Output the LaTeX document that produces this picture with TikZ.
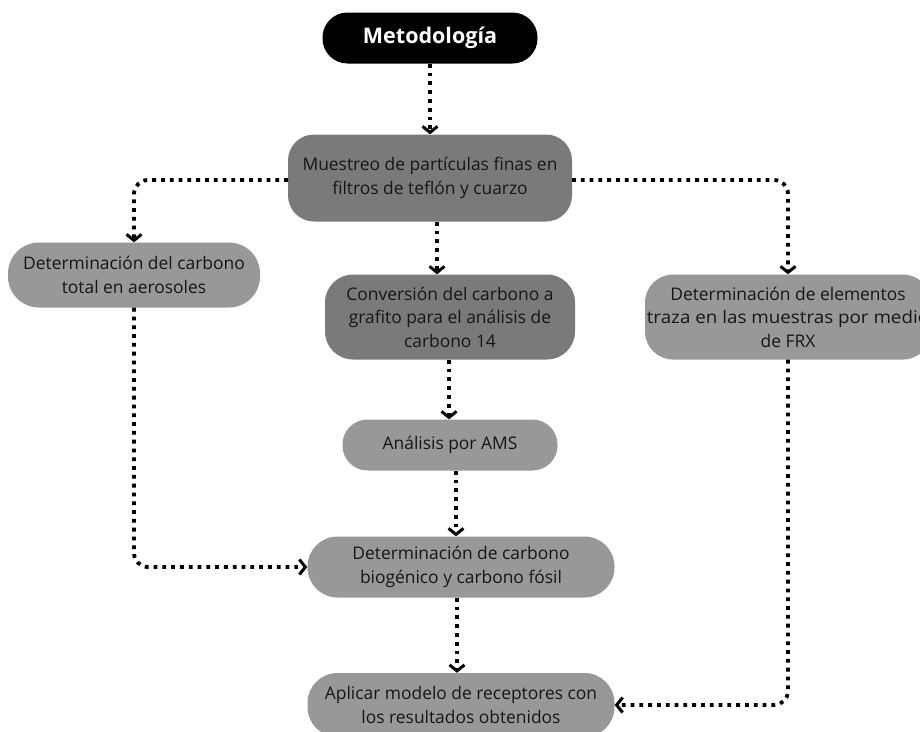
\documentclass[tikz,border=0pt]{standalone}
\usepackage{fontspec}
\setmainfont{Open Sans}
\usetikzlibrary{arrows.meta}
\definecolor{darkbox}{RGB}{122,122,122}
\definecolor{lightbox}{RGB}{152,152,152}
\definecolor{txt}{RGB}{22,22,22}
\begin{document}
\begin{tikzpicture}[x=1pt,y=-1pt,
  box/.style={rectangle, inner sep=0pt, align=center, text=txt,
    font=\fontsize{17.4}{23.5}\selectfont},
  darkb/.style={box, fill=darkbox},
  lightb/.style={box, fill=lightbox},
  conn/.style={line width=3.8pt, dash pattern=on 3.8pt off 5pt,
    rounded corners=14pt,
    -{Straight Barb[length=6pt,width=15pt,line width=3pt]}},
]
\useasboundingbox (0,0) rectangle (920,731);
\node[box, fill=black, text=white, minimum width=215pt, minimum height=51pt,
  rounded corners=25pt, font=\fontsize{21.5}{25}\selectfont\bfseries] (met) at (430,38) {Metodología};
\node[darkb, minimum width=284pt, minimum height=87pt, rounded corners=26pt] (mue) at (430,178)
  {\raisebox{4pt}{\parbox{280pt}{\centering Muestreo de partículas finas en\\filtros de teflón y cuarzo}}};
\node[lightb, minimum width=252pt, minimum height=65pt, rounded corners=31pt] (tot) at (134,275)
  {Determinación del carbono\\total en aerosoles};
\node[darkb, minimum width=250pt, minimum height=85pt, rounded corners=28pt] (con) at (450,317)
  {Conversión del carbono a\\grafito para el análisis de\\carbono 14};
\node[lightb, minimum width=286pt, minimum height=85pt, rounded corners=28pt] (frx) at (788,317)
  {Determinación de elementos\\\scalebox{1.08}[1]{traza en las muestras por medio}\\de FRX};
\node[lightb, minimum width=215pt, minimum height=51pt, rounded corners=25pt] (ams) at (450,445)
  {Análisis por AMS};
\node[lightb, minimum width=307pt, minimum height=61pt, rounded corners=30pt] (bio) at (461,567)
  {Determinación de carbono\\biogénico y carbono fósil};
\node[lightb, minimum width=307pt, minimum height=64pt, rounded corners=30pt] (apl) at (461,705)
  {Aplicar modelo de receptores con\\los resultados obtenidos};
\coordinate (xa) at (437,0);
\coordinate (xb) at (449,0);
\coordinate (xc) at (456,0);
\coordinate (xd) at (457,0);
\coordinate (ml) at (288,180);
\coordinate (mr) at (572,180);
\draw[conn] (met.south) -- (mue.north);
\draw[conn] (ml) -| (tot.north);
\draw[conn] (mr) -| (frx.north);
\draw[conn] (mue.south -| xa) -- (con.north -| xa);
\draw[conn] (con.south -| xb) -- (ams.north -| xb);
\draw[conn] (ams.south -| xc) -- (bio.north -| xc);
\draw[conn] (bio.south -| xd) -- (apl.north -| xd);
\draw[conn] (tot.south) |- (bio.west);
\draw[conn] (frx.south) |- (apl.east);
\end{tikzpicture}
\end{document}
